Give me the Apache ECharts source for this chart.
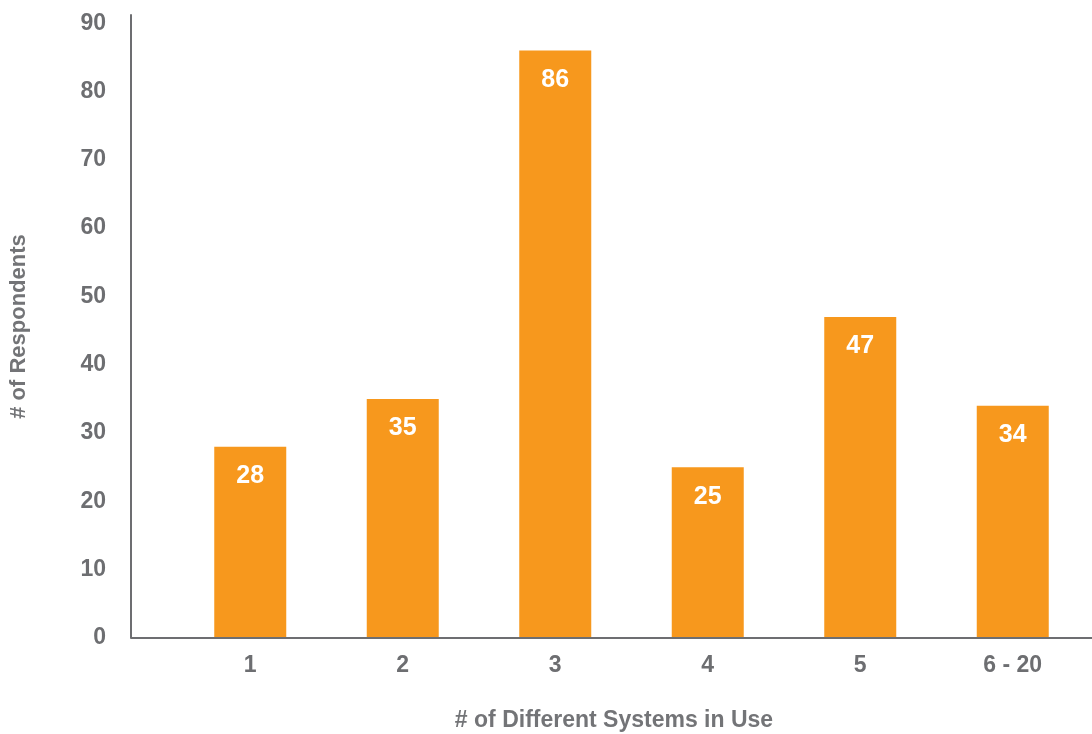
<!DOCTYPE html>
<html>
<head>
<meta charset="utf-8">
<script src="https://cdn.jsdelivr.net/npm/echarts@6/dist/echarts.min.js"></script>
<style>
html,body{margin:0;padding:0;background:#fff;}
#main{width:1092px;height:734px;}
</style>
</head>
<body>
<div id="main"></div>
<script>
// 数据
var categories = ['1', '2', '3', '4', '5', '6 - 20'];
var respondents = [28, 35, 86, 25, 47, 34];
var yTicks = [0, 10, 20, 30, 40, 50, 60, 70, 80, 90];

var gray = '#6d6e71';
var orange = '#f7981d';
var fontName = 'Liberation Sans, Arial, sans-serif';

function initChart(){
	var myChart = echarts.init(document.getElementById('main'));
	var option = {
		animation: false,
		grid: {left: 174, right: 3, top: 15, bottom: 96, containLabel: false, outerBoundsMode: 'none'},
		xAxis: {
			type: 'category',
			data: categories,
			name: '# of Different Systems in Use',
			nameLocation: 'middle',
			nameGap: 71,
			nameTextStyle: {color: '#737477', fontSize: 23, fontWeight: 'bold', fontFamily: fontName, padding: [0, 35, 0, 0]},
			axisLine: {show: false},
			axisTick: {show: false},
			axisLabel: {color: gray, fontSize: 23, fontWeight: 'bold', fontFamily: fontName, margin: 16}
		},
		yAxis: {
			type: 'value',
			min: 0,
			max: 91.2,
			interval: 10,
			offset: 43,
			name: '# of Respondents',
			nameLocation: 'middle',
			nameGap: 101,
			nameTextStyle: {color: '#737477', fontSize: 22, fontWeight: 'bold', fontFamily: fontName},
			splitLine: {show: false},
			axisTick: {show: false},
			axisLine: {show: true, lineStyle: {color: gray, width: 2}},
			axisLabel: {
				color: gray, fontSize: 23, fontWeight: 'bold', fontFamily: fontName, margin: 25,
				showMaxLabel: false,
				formatter: function(v){
					return yTicks.indexOf(v) >= 0 ? String(v) : '';
				}
			}
		},
		// x轴线（从y轴一直画到右边）
		graphic: [{
			type: 'line',
			shape: {x1: 131, y1: 638, x2: 1092, y2: 638},
			style: {stroke: gray, lineWidth: 2},
			z: 10
		}],
		series: [{
			type: 'bar',
			data: respondents,
			barWidth: 72,
			itemStyle: {color: orange},
			label: {
				show: true,
				position: 'insideTop',
				distance: 17,
				color: '#fff',
				fontSize: 25,
				fontWeight: 'bold',
				fontFamily: fontName
			}
		}]
	};
	myChart.setOption(option);
}

initChart();
</script>
</body>
</html>
